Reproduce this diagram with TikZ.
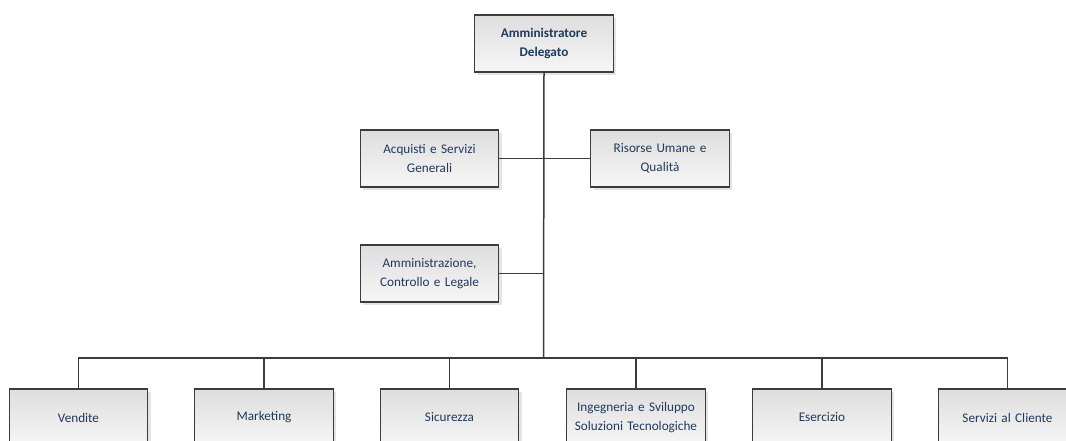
\documentclass[tikz,border=0pt]{standalone}
\usepackage{fontspec}
\setmainfont{Carlito}
\usetikzlibrary{shadows}
\definecolor{boxtext}{HTML}{1F3A5C}
\definecolor{boxline}{HTML}{3C3C3C}
\begin{document}
\begin{tikzpicture}
            [x=1pt,y=-1pt,line width=1.5pt,
             unit/.style={rectangle,draw=boxline,line width=1.2pt,
                 top color=gray!26,bottom color=gray!7,
                 drop shadow={shadow xshift=3pt,shadow yshift=-3pt,fill=gray!35,opacity=0.6},
                 minimum width=137pt,minimum height=57pt,text width=132pt,align=center,
                 text=boxtext,font=\fontsize{13.2}{18.5}\selectfont},
             link/.style={draw=boxline}]
            \clip (0,0) rectangle (1066,441);
            \node [unit,font=\fontsize{13.2}{18.5}\selectfont\bfseries] (ad) at (544,43.5) {Amministratore\\Delegato};
            \node [unit] (acq) at (429.5,158.5) {Acquisti e Servizi\\Generali};
            \node [unit] (ris) at (660,158.5) {Risorse Umane e\\Qualità};
            \node [unit] (amm) at (429.5,273.5) {Amministrazione,\\Controllo e Legale};
            \node [unit] (ven) at (78.5,417.5) {Vendite};
            \node [unit] (mkt) at (264,417.5) {Marketing};
            \node [unit] (sic) at (449.5,417.5) {Sicurezza};
            \node [unit] (ing) at (636,417.5) {Ingegneria e Sviluppo\\Soluzioni Tecnologiche};
            \node [unit] (ese) at (822,417.5) {Esercizio};
            \node [unit] (cli) at (1007.5,417.5) {Servizi al Cliente};
            \coordinate (hub) at (543.5,358);
            \draw [link] (ad.south) -- (hub);
            \draw [link] (acq.east) -- (ris.west);
            \draw [link] (amm.east) -- (amm.east -| hub);
            \foreach \n in {ven,mkt,sic,ing,ese,cli}
                \draw [link] (hub) -| (\n.north);
        \end{tikzpicture}
\end{document}
